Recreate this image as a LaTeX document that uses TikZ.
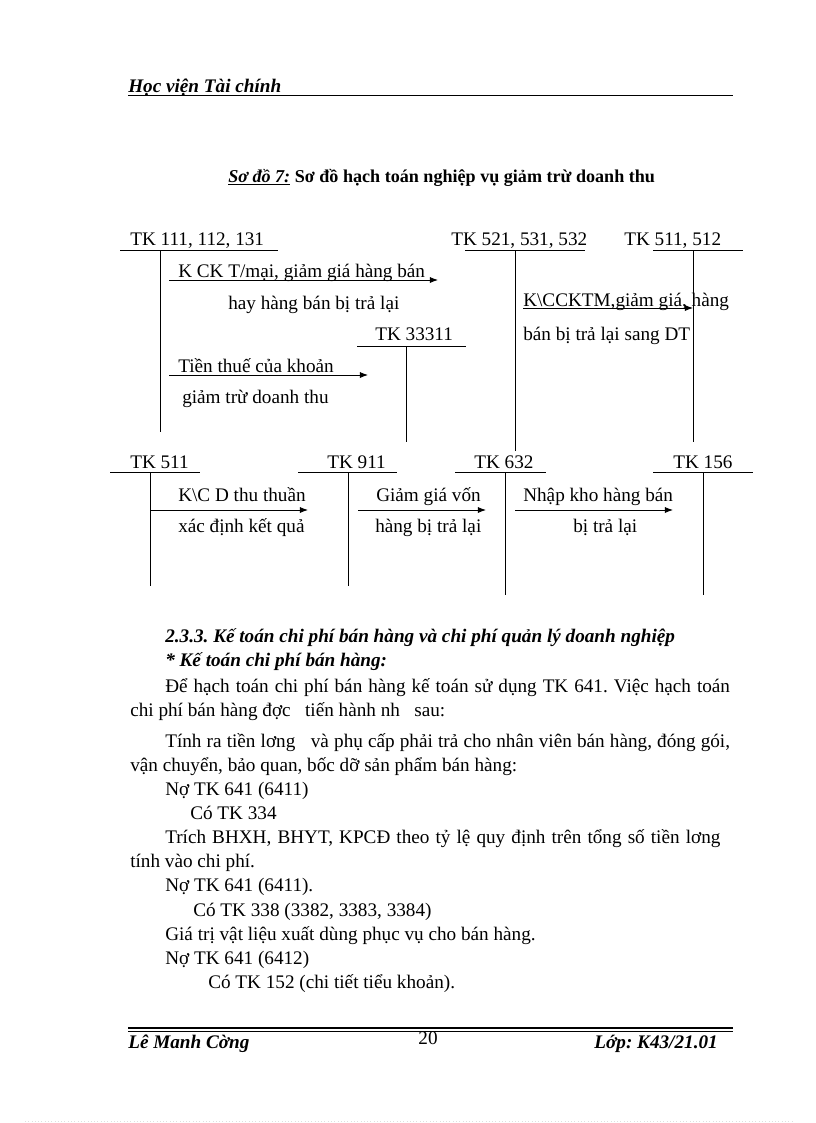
\documentclass[tikz,border=0pt]{standalone}
\usepackage{fontspec}
\setmainfont{Liberation Serif}
\usetikzlibrary{arrows.meta}
\frenchspacing

\tikzset{
  txt/.style={inner sep=0pt, anchor=base west, font=\fontsize{14}{17}\selectfont},
  bi/.style={txt, font=\fontsize{14}{17}\selectfont\bfseries\itshape},
  acct/.style={line width=0.7pt},
  entry/.style={-{Latex[length=6pt,width=4.5pt]}, line width=0.6pt},
}

\begin{document}
\begin{tikzpicture}[x=0.7295pt,y=-0.7295pt]
    \useasboundingbox (0,0) rectangle (816,1123);

    % Header and title
    \node[bi] (head) at (128,92) {Học viện Tài chính};
    \draw[line width=1.3pt] (128,95.5) -- (733,95.5);
    \node[txt, font=\fontsize{13.2}{16}\selectfont\bfseries] (title) at (228,182)
        {\underline{\itshape Sơ đồ 7:} Sơ đồ hạch toán nghiệp vụ giảm trừ doanh thu};

    % Accounts, top row
    \node[txt] (tk111) at (130,245) {TK 111, 112, 131};
    \node[txt] (tk521) at (451,245) {TK 521, 531, 532};
    \node[txt] (tk5112) at (624,245) {TK 511, 512};
    \node[txt] (tk3331) at (375,340) {TK 33311};
    \draw[acct] (120,250) -- (278,250);
    \draw[acct] (160,250) -- (160,432);
    \draw[acct] (465,250) -- (585,250);
    \draw[acct] (515,250) -- (515,451);
    \draw[acct] (653,250) -- (743,250);
    \draw[acct] (693,250) -- (693,442);
    \draw[acct] (357,346) -- (466,346);
    \draw[acct] (406,346) -- (406,442);

    % Accounts, bottom row
    \node[txt] (tk511) at (130,468) {TK 511};
    \node[txt] (tk911) at (327,468) {TK 911};
    \node[txt] (tk632) at (474,468) {TK 632};
    \node[txt] (tk156) at (673,468) {TK 156};
    \draw[acct] (110,472) -- (200,472);
    \draw[acct] (150,472) -- (150,586);
    \draw[acct] (298,472) -- (397,472);
    \draw[acct] (348,472) -- (348,586);
    \draw[acct] (455,472) -- (546,472);
    \draw[acct] (505,472) -- (505,595);
    \draw[acct] (653,472) -- (753,472);
    \draw[acct] (703,472) -- (703,595);

    % Entries, top row
    \coordinate (a1) at (169,280);
    \coordinate (b1) at (438,280);
    \coordinate (a2) at (169,375);
    \coordinate (b2) at (368,375);
    \coordinate (a3) at (523,308);
    \coordinate (b3) at (693,308);
    \draw[entry] (a1) -- (b1);
    \draw[entry] (a2) -- (b2);
    \draw[entry] (a3) -- (b3);
    \node[txt] (e1) at (178,277) {K CK T/mại, giảm giá hàng bán};
    \node[txt] (e1b) at (228,309) {hay hàng bán bị trả lại};
    \node[txt] (e2) at (178,372) {Tiền thuế của khoản};
    \node[txt] (e2b) at (182,403) {giảm trừ doanh thu};
    \node[txt] (e3) at (523,306) {K\textbackslash CCKTM,giảm giá, hàng};
    \node[txt] (e3b) at (523,340) {bán bị trả lại sang DT};

    % Entries, bottom row
    \coordinate (a4) at (150,510);
    \coordinate (b4) at (308,510);
    \coordinate (a5) at (358,510);
    \coordinate (b5) at (486,510);
    \coordinate (a6) at (515,510);
    \coordinate (b6) at (673,510);
    \draw[entry] (a4) -- (b4);
    \draw[entry] (a5) -- (b5);
    \draw[entry] (a6) -- (b6);
    \node[txt] (e4) at (178,501) {K\textbackslash C D thu thuần};
    \node[txt] (e4b) at (178,532) {xác định kết quả};
    \node[txt] (e5) at (376,501) {Giảm giá vốn};
    \node[txt] (e5b) at (375,532) {hàng bị trả lại};
    \node[txt] (e6) at (523,501) {Nhập kho hàng bán};
    \node[txt] (e6b) at (573,532) {bị trả lại};

    % Body text
    \node[bi] (sec) at (165,642) {2.3.3. Kế toán chi phí bán hàng và chi phí quản lý doanh nghiệp};
    \node[bi] (sub) at (165,666) {* Kế toán chi phí bán hàng:};
    \node[txt] (p1) at (165,692) {\makebox[412pt][s]{Để hạch toán chi phí bán hàng kế toán sử dụng TK 641. Việc hạch toán}};
    \node[txt] (p1b) at (130,716) {chi phí bán hàng đợc\ \ \ tiến hành nh\ \ \ sau:};
    \node[txt] (p2) at (165,747) {\makebox[412pt][s]{Tính ra tiền lơng\ \ \ và phụ cấp phải trả cho nhân viên bán hàng, đóng gói,}};
    \node[txt] (p2b) at (130,771) {vận chuyển, bảo quan, bốc dỡ sản phẩm bán hàng:};
    \node[txt] (n1) at (165,795) {Nợ TK 641 (6411)};
    \node[txt] (c1) at (190,819) {Có TK 334};
    \node[txt] (p3) at (165,843) {\makebox[405pt][s]{Trích BHXH, BHYT, KPCĐ theo tỷ lệ quy định trên tổng số tiền lơng}};
    \node[txt] (p3b) at (130,867) {tính vào chi phí.};
    \node[txt] (n2) at (165,891) {Nợ TK 641 (6411).};
    \node[txt] (c2) at (193,916) {Có TK 338 (3382, 3383, 3384)};
    \node[txt] (p4) at (165,940) {Giá trị vật liệu xuất dùng phục vụ cho bán hàng.};
    \node[txt] (n3) at (165,964) {Nợ TK 641 (6412)};
    \node[txt] (c3) at (208,988) {Có TK 152 (chi tiết tiểu khoản).};

    % Footer
    \draw[line width=0.8pt] (128,1028) -- (733,1028);
    \draw[line width=0.8pt] (128,1031.5) -- (733,1031.5);
    \node[bi] (name) at (128,1048) {Lê Manh Cờng};
    \node[txt, anchor=base] (page) at (428,1044) {20};
    \node[bi, anchor=base east] (cls) at (718,1048) {Lớp: K43/21.01};
    \draw[gray!25, dotted] (25,1121) -- (792,1121);
\end{tikzpicture}
\end{document}
